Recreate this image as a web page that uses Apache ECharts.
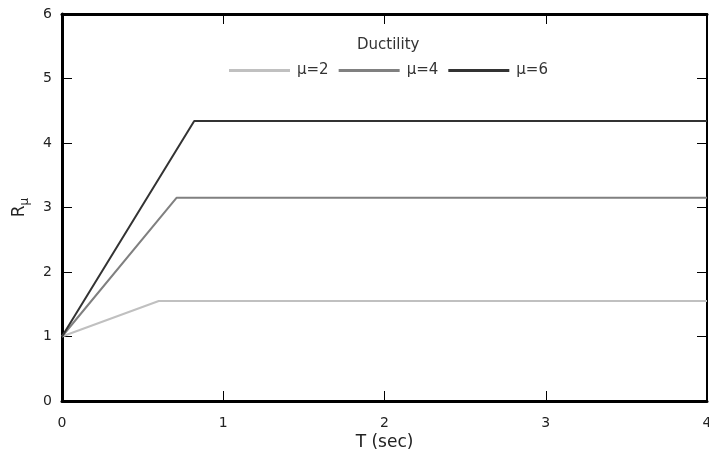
<!DOCTYPE html>
<html>
<head>
<meta charset="utf-8">
<script src="https://cdn.jsdelivr.net/npm/echarts@6/dist/echarts.min.js"></script>
<style>
  html, body { margin: 0; padding: 0; background: #fff; }
  #chart { width: 709px; height: 459px; }
</style>
</head>
<body>
<div id="chart"></div>
<script>
// R_mu vs period, one bilinear curve per ductility
const seriesNames = ['μ=2', 'μ=4', 'μ=6']
const periodPoints = [
  [0, 0.60, 4],
  [0, 0.71, 4],
  [0, 0.82, 4]
]
const rmuValues = [
  [1, 1.55, 1.55],
  [1, 3.15, 3.15],
  [1, 4.34, 4.34]
]
const lineColors = ['#c0c0c0', '#808080', '#333333']

const font = '"DejaVu Sans", sans-serif'

const chart = echarts.init(document.getElementById('chart'), null, { renderer: 'canvas' })

const series = seriesNames.map((name, i) => ({
  name,
  type: 'line',
  symbol: 'none',
  silent: true,
  animation: false,
  lineStyle: { color: lineColors[i], width: 2 },
  itemStyle: { color: lineColors[i] },
  data: periodPoints[i].map((x, j) => [x, rmuValues[i][j]])
}))

const tick = { inside: true, length: 10, lineStyle: { color: '#000', width: 1 } }

const option = {
  backgroundColor: '#fff',
  animation: false,
  textStyle: { fontFamily: font },
  grid: { left: 62, right: 2, top: 14, bottom: 58, outerBoundsMode: 'none', containLabel: false },
  title: {
    text: 'Ductility',
    left: 357,
    top: 38,
    padding: 0,
    textStyle: { fontFamily: font, fontSize: 15, fontWeight: 'normal', color: '#333' }
  },
  legend: {
    data: seriesNames,
    left: 229,
    top: 63,
    padding: 0,
    icon: 'rect',
    itemWidth: 61,
    itemHeight: 3,
    itemGap: 10,
    textStyle: { fontFamily: font, fontSize: 15, color: '#333', padding: [0, 0, 0, 2] }
  },
  xAxis: [
    {
      type: 'value',
      min: 0,
      max: 4,
      interval: 1,
      name: 'T (sec)',
      nameLocation: 'middle',
      nameGap: 33,
      nameMoveOverlap: false,
      nameTextStyle: { fontSize: 17, color: '#222' },
      axisLine: { onZero: false, lineStyle: { color: '#000', width: 3 } },
      axisTick: tick,
      axisLabel: { fontSize: 14, color: '#222', margin: 15 },
      splitLine: { show: false }
    },
    {
      type: 'value',
      position: 'top',
      min: 0,
      max: 4,
      interval: 1,
      axisLine: { onZero: false, lineStyle: { color: '#000', width: 3 } },
      axisTick: tick,
      axisLabel: { show: false },
      splitLine: { show: false }
    }
  ],
  yAxis: [
    {
      type: 'value',
      min: 0,
      max: 6,
      interval: 1,
      name: '{r|R}{sub|μ}',
      nameLocation: 'middle',
      nameGap: 31,
      nameMoveOverlap: false,
      nameRotate: 90,
      nameTextStyle: {
        rich: {
          r: { fontSize: 17, color: '#222', fontFamily: font },
          sub: { fontSize: 12, color: '#222', fontFamily: font, padding: [10, 0, 0, 0] }
        }
      },
      axisLine: { onZero: false, lineStyle: { color: '#000', width: 3 } },
      axisTick: tick,
      axisLabel: { fontSize: 14, color: '#222', margin: 10 },
      splitLine: { show: false }
    },
    {
      type: 'value',
      position: 'right',
      min: 0,
      max: 6,
      interval: 1,
      axisLine: { onZero: false, lineStyle: { color: '#000', width: 2 } },
      axisTick: tick,
      axisLabel: { show: false },
      splitLine: { show: false }
    }
  ],
  series
}

chart.setOption(option)
</script>
</body>
</html>
